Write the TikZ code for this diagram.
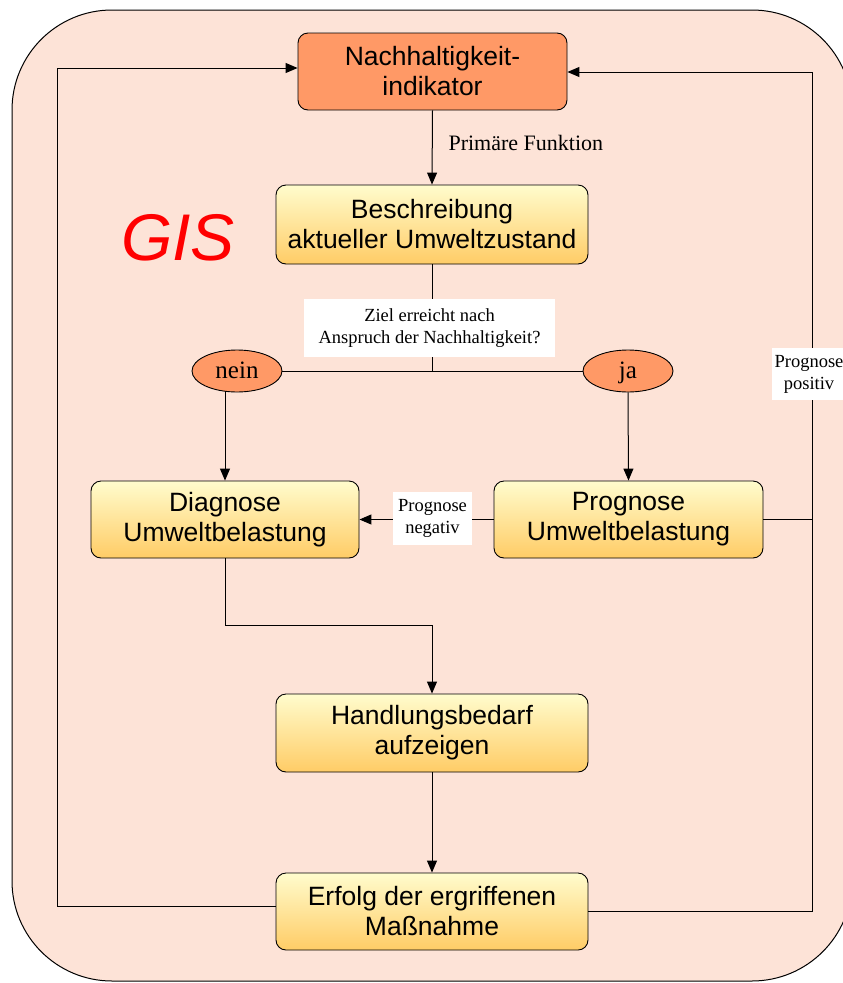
\documentclass[tikz,border=0pt]{standalone}
\usepackage{fontspec}
\setmainfont{Liberation Serif}
\newfontfamily\arialf{Liberation Sans}
\usetikzlibrary{arrows.meta,shapes.geometric,calc}
\definecolor{bgfill}{RGB}{253,227,215}
\definecolor{orangebox}{RGB}{255,153,102}
\definecolor{ytop}{RGB}{255,252,205}
\definecolor{ybot}{RGB}{255,204,102}
\tikzset{
  ybox/.style={draw=black, line width=0.9pt, rounded corners=10pt, top color=ytop, bottom color=ybot,
    align=center, inner sep=0pt, font=\arialf\fontsize{26.5}{30}\selectfont},
  obox/.style={draw=black, line width=0.9pt, rounded corners=10pt, fill=orangebox,
    align=center, inner sep=0pt, font=\arialf\fontsize{26.5}{30}\selectfont},
  oval/.style={ellipse, draw=black, line width=0.9pt, fill=orangebox, minimum width=90pt, minimum height=42pt,
    inner sep=0pt, text height=19pt, text depth=4pt, font=\fontsize{25}{28}\selectfont},
  lbl/.style={fill=white, align=center, inner sep=0pt, font=\fontsize{18.5}{22}\selectfont},
  conn/.style={line width=1pt, draw=black},
  arr/.style={conn, -{Triangle[length=12pt,width=10pt]}},
}
\begin{document}
\begin{tikzpicture}[x=1pt,y=-1pt]
\useasboundingbox (0,0) rectangle (843,983);
\begin{scope}
\clip (0,0) rectangle (843,983);
\draw[line width=1pt, fill=bgfill, rounded corners=100pt] (12,10) rectangle (852,981);
\end{scope}

\node[font=\arialf\itshape\fontsize{66}{66}\selectfont, text=red] (gis) at (178,238) {GIS};

\node[obox, minimum width=269pt, minimum height=77pt] (nach) at (432.5,71.5) {Nachhaltigkeit-\\indikator};
\node[ybox, minimum width=312pt, minimum height=79pt] (besch) at (432,224.5) {Beschreibung\\aktueller Umweltzustand};
\node[oval] (nein) at (237,371) {nein};
\node[oval] (ja) at (628,371) {ja};
\node[ybox, minimum width=268pt, minimum height=77pt] (diag) at (225,519.5) {Diagnose\\Umweltbelastung};
\node[ybox, minimum width=269pt, minimum height=77pt] (prog) at (628.5,519.5) {Prognose\\Umweltbelastung};
\node[ybox, minimum width=312pt, minimum height=78pt] (hand) at (432,733) {Handlungsbedarf\\aufzeigen};
\node[ybox, minimum width=312pt, minimum height=77pt] (erf) at (432,911.5) {Erfolg der ergriffenen\\Maßnahme};

% coordinates
\coordinate (junc) at (besch.south |- nein.east);
\coordinate (rtop) at (812,72);
\coordinate (rmid) at (812,519.5);
\coordinate (rbot) at (812,911);
\coordinate (ltop) at (57,68);
\coordinate (lbot) at (57,906);
\coordinate (dturn) at (225,625);

% connectors
\draw[arr] (nach.south) -- (besch.north);
\node[font=\fontsize{22}{24}\selectfont, anchor=west] (pf) at (445,143) {Primäre Funktion};

\draw[conn] (besch.south) -- (junc);
\draw[conn] (nein.east) -- (ja.west);
\node[lbl, minimum width=251pt, minimum height=58pt] (ziel) at (429.5,328) {Ziel erreicht nach\\Anspruch der Nachhaltigkeit?};

\draw[arr] (diag.north |- nein.south) ++(0,-1) -- (diag.north);
\draw[arr] (ja.south) -- (prog.north);

\draw[arr] (prog.west) -- (diag.east);
\node[lbl, minimum width=79pt, minimum height=53pt] (neg) at (432.5,518.5) {Prognose\\negativ};

\draw[arr] (prog.east) -- (rmid) -- (rtop) -- (nach.east |- rtop);
\draw[conn] (erf.east |- rbot) -- (rbot) -- (rmid);
\node[lbl, minimum width=74pt, minimum height=52pt] (pos) at (809,374) {Prognose\\positiv};

\draw[arr] (diag.south) -- (dturn) -- (hand.north |- dturn) -- (hand.north);
\draw[arr] (hand.south) -- (erf.north);

\draw[arr] (erf.west |- lbot) -- (lbot) -- (ltop) -- (nach.west |- ltop);
\end{tikzpicture}
\end{document}
